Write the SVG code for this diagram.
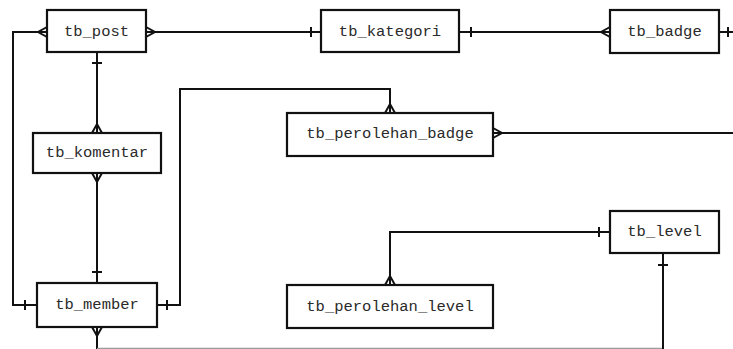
<svg xmlns="http://www.w3.org/2000/svg" width="733" height="349" viewBox="0 0 733 349">
  <style>
    .box { fill: #ffffff; stroke: #111111; stroke-width: 2.2; }
    .lbl { font-family: "Liberation Mono", "Courier New", monospace; font-size: 15.5px; fill: #2a2a2a; text-anchor: middle; dominant-baseline: central; }
    .ln { fill: none; stroke: #111111; stroke-width: 2; }
    .mk { fill: none; stroke: #111111; stroke-width: 2; }
    .edge { fill: none; stroke: #9a9a9a; stroke-width: 1.2; }
  </style>
  <rect width="733" height="349" fill="#ffffff"/>

  <!-- relationship lines -->
  <g id="connectors">
    <!-- tb_post left ~ tb_member left -->
    <polyline class="ln" points="47,32 13,32 13,305 37,305"/>
    <path class="mk" d="M47,27 L38,32 L47,37 M47,32 L38,32 M25,300 L25,310"/>
    <!-- tb_post right ~ tb_kategori -->
    <polyline class="ln" points="146,32 321,32"/>
    <path class="mk" d="M146,27 L155,32 L146,37 M311,27 L311,37"/>
    <!-- tb_kategori ~ tb_badge -->
    <polyline class="ln" points="459,32 610,32"/>
    <path class="mk" d="M471,27 L471,37 M610,27 L601,32 L610,37"/>
    <!-- tb_badge right, leaving the frame -->
    <polyline class="ln" points="719,32 733,32"/>
    <path class="mk" d="M728,27 L728,37"/>
    <!-- tb_post ~ tb_komentar -->
    <polyline class="ln" points="97,52 97,133"/>
    <path class="mk" d="M92,63 L102,63 M92,133 L97,124 L102,133"/>
    <!-- tb_komentar ~ tb_member -->
    <polyline class="ln" points="97,173 97,283"/>
    <path class="mk" d="M92,173 L97,182 L102,173 M92,272 L102,272"/>
    <!-- tb_member ~ tb_perolehan_badge -->
    <polyline class="ln" points="157,305 180,305 180,89 390,89 390,113"/>
    <path class="mk" d="M167,300 L167,310 M385,113 L390,104 L395,113"/>
    <!-- tb_perolehan_badge right, leaving the frame -->
    <polyline class="ln" points="493,133 733,133"/>
    <path class="mk" d="M493,128 L502,133 L493,138"/>
    <!-- tb_level ~ tb_perolehan_level -->
    <polyline class="ln" points="610,232 390,232 390,285"/>
    <path class="mk" d="M599,227 L599,237 M385,285 L390,276 L395,285"/>
    <!-- tb_member bottom ~ tb_level bottom, running along the lower edge -->
    <polyline class="ln" points="97,327 97,349"/>
    <polyline class="edge" points="97,348.4 663,348.4"/>
    <polyline class="ln" points="663,349 663,253"/>
    <path class="mk" d="M92,327 L97,336 L102,327 M658,265 L668,265"/>
  </g>

  <g id="tb_post">
    <rect class="box" x="47" y="10" width="99" height="42"/>
    <text class="lbl" x="96.5" y="32">tb_post</text>
  </g>
  <g id="tb_kategori">
    <rect class="box" x="321" y="10" width="138" height="42"/>
    <text class="lbl" x="390" y="32">tb_kategori</text>
  </g>
  <g id="tb_badge">
    <rect class="box" x="610" y="10" width="109" height="43"/>
    <text class="lbl" x="664.5" y="32">tb_badge</text>
  </g>
  <g id="tb_komentar">
    <rect class="box" x="33" y="133" width="128" height="40"/>
    <text class="lbl" x="97" y="153">tb_komentar</text>
  </g>
  <g id="tb_perolehan_badge">
    <rect class="box" x="287" y="113" width="206" height="43"/>
    <text class="lbl" x="390" y="134">tb_perolehan_badge</text>
  </g>
  <g id="tb_level">
    <rect class="box" x="610" y="211" width="109" height="42"/>
    <text class="lbl" x="664.5" y="232">tb_level</text>
  </g>
  <g id="tb_member">
    <rect class="box" x="37" y="283" width="120" height="44"/>
    <text class="lbl" x="97" y="305">tb_member</text>
  </g>
  <g id="tb_perolehan_level">
    <rect class="box" x="287" y="285" width="206" height="43"/>
    <text class="lbl" x="390" y="307">tb_perolehan_level</text>
  </g>
</svg>
